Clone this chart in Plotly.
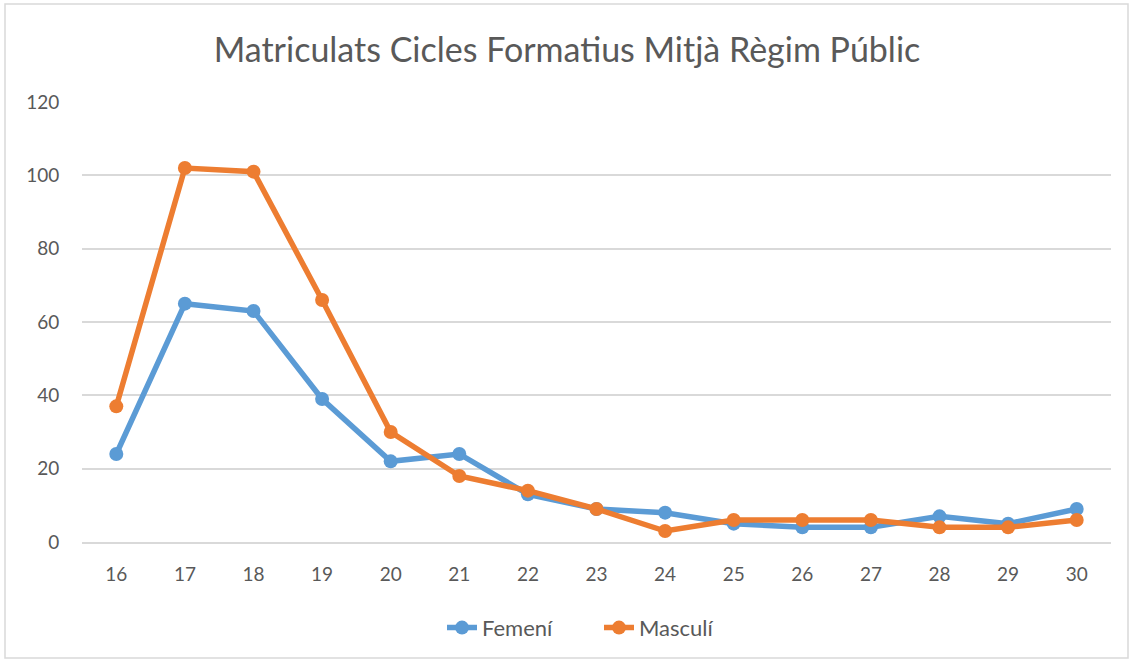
import plotly.graph_objects as go

ages = ["16", "17", "18", "19", "20", "21", "22", "23", "24", "25", "26", "27", "28", "29", "30"]
femeni = [24, 65, 63, 39, 22, 24, 13, 9, 8, 5, 4, 4, 7, 5, 9]
masculi = [37, 102, 101, 66, 30, 18, 14, 9, 3, 6, 6, 6, 4, 4, 6]
y_ticks = [0, 20, 40, 60, 80, 100, 120]

fig = go.Figure()
fig.add_trace(go.Scatter(x=ages, y=femeni, name="Femení", mode="lines+markers",
                         line=dict(color="#5B9BD5", width=5.5),
                         marker=dict(size=14, color="#5B9BD5")))
fig.add_trace(go.Scatter(x=ages, y=masculi, name="Masculí", mode="lines+markers",
                         line=dict(color="#ED7D31", width=5.5),
                         marker=dict(size=14, color="#ED7D31")))

fig.update_layout(
    width=1134, height=662,
    paper_bgcolor="white", plot_bgcolor="white",
    font=dict(family="Lato, Open Sans, sans-serif", color="#595959", size=19),
    title=dict(text="Matriculats Cicles Formatius Mitjà Règim Públic",
               x=0.5, xanchor="center", y=0.925, yanchor="middle",
               font=dict(size=34, color="#595959")),
    margin=dict(l=82, r=23, t=102, b=120),
    xaxis=dict(type="category", range=[-0.5, 14.5], showgrid=False,
               showline=True, linecolor="#D9D9D9", linewidth=1.5,
               ticks="outside", ticklen=14, tickcolor="white",
               tickfont=dict(size=19, color="#595959")),
    yaxis=dict(range=[0, 120], tickvals=y_ticks, showgrid=True,
               gridcolor="#D9D9D9", gridwidth=1.5, zeroline=False,
               showline=False, ticks="outside", ticklen=18, tickcolor="white",
               tickfont=dict(size=19, color="#595959")),
    legend=dict(orientation="h", x=(442 - 82) / 1029, xanchor="left", y=-0.195, yanchor="middle",
                entrywidth=112, entrywidthmode="pixels",
                font=dict(size=22, color="#595959")),
    showlegend=True,
)
fig.add_shape(type="rect", xref="paper", yref="paper",
              x0=-77/1029, x1=(1128-82)/1029, y0=-(658-542)/440, y1=(542-4)/440,
              line=dict(color="#D9D9D9", width=1.5), fillcolor="rgba(0,0,0,0)", layer="below")

fig.write_html("out.html", config={"displayModeBar": False},
               post_script="document.body.style.margin='0';")
